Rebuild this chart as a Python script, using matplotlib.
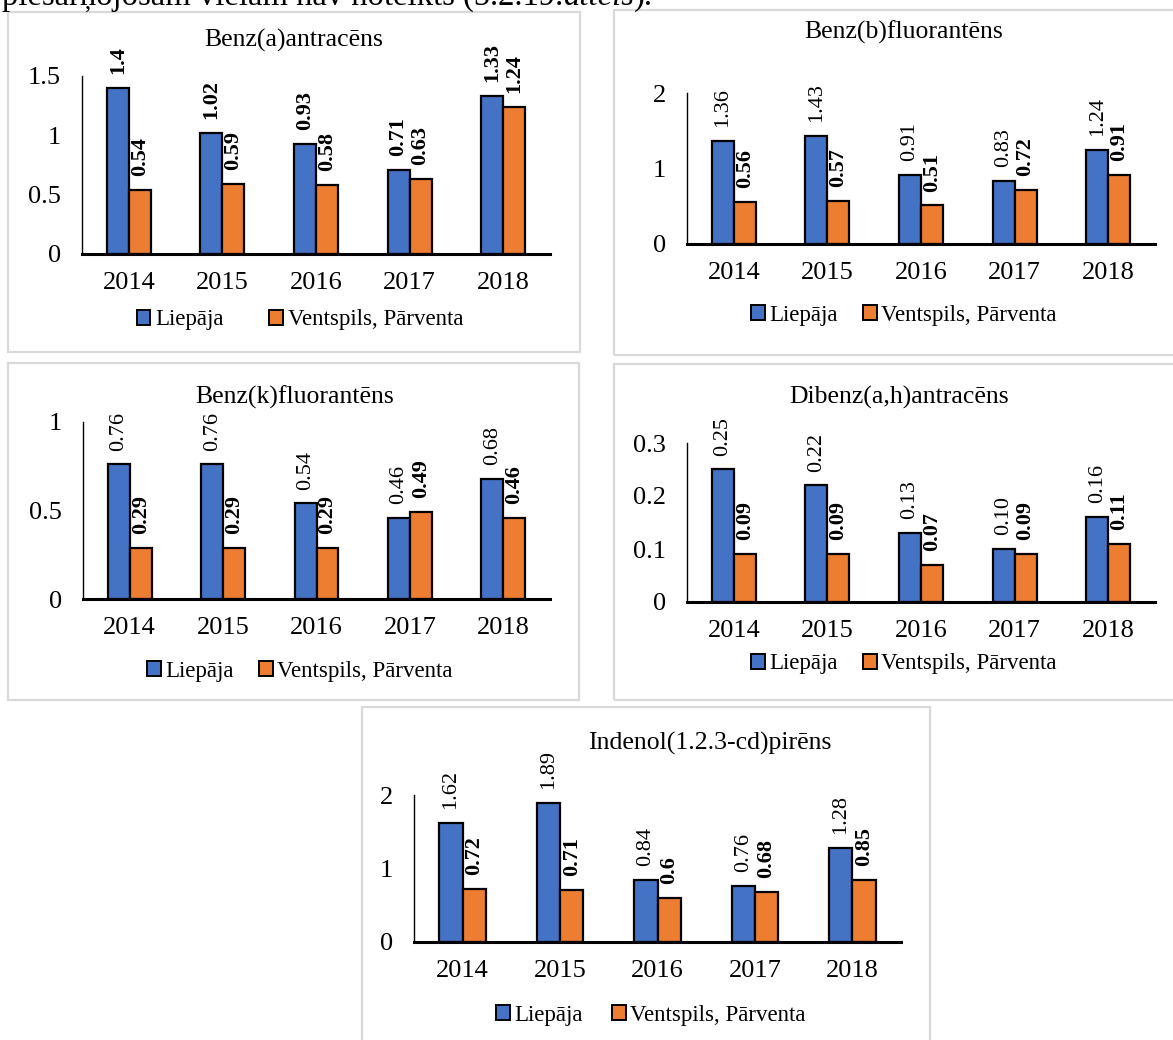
import matplotlib
matplotlib.use("Agg")
import matplotlib.pyplot as plt
from matplotlib.patches import Rectangle

plt.rcParams['font.family'] = ['Liberation Serif', 'DejaVu Serif']

W, H = 1173, 1040

years = ["2014", "2015", "2016", "2017", "2018"]
series_names = ["Liepāja", "Ventspils, Pārventa"]

benz_a_liep = [1.4, 1.02, 0.93, 0.71, 1.33]
benz_a_vent = [0.54, 0.59, 0.58, 0.63, 1.24]
benz_a_liep_lbl = ["1.4", "1.02", "0.93", "0.71", "1.33"]
benz_a_vent_lbl = ["0.54", "0.59", "0.58", "0.63", "1.24"]

benz_b_liep = [1.36, 1.43, 0.91, 0.83, 1.24]
benz_b_vent = [0.56, 0.57, 0.51, 0.72, 0.91]
benz_b_liep_lbl = ["1.36", "1.43", "0.91", "0.83", "1.24"]
benz_b_vent_lbl = ["0.56", "0.57", "0.51", "0.72", "0.91"]

benz_k_liep = [0.76, 0.76, 0.54, 0.46, 0.68]
benz_k_vent = [0.29, 0.29, 0.29, 0.49, 0.46]
benz_k_liep_lbl = ["0.76", "0.76", "0.54", "0.46", "0.68"]
benz_k_vent_lbl = ["0.29", "0.29", "0.29", "0.49", "0.46"]

dibenz_liep = [0.25, 0.22, 0.13, 0.10, 0.16]
dibenz_vent = [0.09, 0.09, 0.07, 0.09, 0.11]
dibenz_liep_lbl = ["0.25", "0.22", "0.13", "0.10", "0.16"]
dibenz_vent_lbl = ["0.09", "0.09", "0.07", "0.09", "0.11"]

indenol_liep = [1.62, 1.89, 0.84, 0.76, 1.28]
indenol_vent = [0.72, 0.71, 0.6, 0.68, 0.85]
indenol_liep_lbl = ["1.62", "1.89", "0.84", "0.76", "1.28"]
indenol_vent_lbl = ["0.72", "0.71", "0.6", "0.68", "0.85"]

BLUE = "#4472C4"
ORANGE = "#ED7D31"
BORDER = "#d9d9d9"

fig = plt.figure(figsize=(W / 100, H / 100), dpi=100)


def fx(x):
    return x / W


def fy(y):
    return 1 - y / H


def panel_box(x0, y0, x1, y1):
    fig.add_artist(Rectangle((fx(x0), fy(y1)), fx(x1) - fx(x0), fy(y0) - fy(y1),
                             transform=fig.transFigure, fill=False,
                             edgecolor=BORDER, linewidth=1.6))


def chart(area, title, title_xy, liep, vent, liep_lbl, vent_lbl, ymax, yticks, ylabels,
          legend_xy, colspace, bold_liep=False, bw=0.235):
    left, top, right, bottom = area
    ax = fig.add_axes([fx(left), fy(bottom), fx(right) - fx(left), fy(top) - fy(bottom)])
    ax.set_facecolor("none")
    x = list(range(len(years)))
    b1 = ax.bar([i - bw / 2 for i in x], liep, bw, color=BLUE, edgecolor="black", linewidth=1.6)
    b2 = ax.bar([i + bw / 2 for i in x], vent, bw, color=ORANGE, edgecolor="black", linewidth=1.6)
    ax.bar_label(b1, labels=liep_lbl, rotation=90, padding=10, fontsize=16,
                 fontweight="bold" if bold_liep else "normal")
    ax.bar_label(b2, labels=vent_lbl, rotation=90, padding=10, fontsize=16, fontweight="bold")
    ax.set_xlim(-0.5, len(years) - 0.5)
    ax.set_ylim(0, ymax)
    ax.set_xticks(x)
    ax.set_xticklabels(years, fontsize=19)
    ax.set_yticks(yticks)
    ax.set_yticklabels(ylabels, fontsize=19)
    ax.tick_params(length=0)
    ax.tick_params(axis="x", pad=13)
    ax.tick_params(axis="y", pad=15)
    for s in ["top", "right"]:
        ax.spines[s].set_visible(False)
    ax.spines["left"].set_linewidth(1.0)
    ax.spines["bottom"].set_linewidth(2.2)
    fig.text(fx(title_xy[0]), fy(title_xy[1]), title, fontsize=18.5, ha="center", va="center")
    handles = [Rectangle((0, 0), 1, 1, facecolor=BLUE, edgecolor="black", linewidth=1.4),
               Rectangle((0, 0), 1, 1, facecolor=ORANGE, edgecolor="black", linewidth=1.4)]
    fig.legend(handles, series_names, loc="center", bbox_to_anchor=(fx(legend_xy[0]), fy(legend_xy[1])),
               ncol=2, frameon=False, fontsize=16.5, handlelength=0.6, handleheight=0.6,
               handletextpad=0.2, columnspacing=colspace, borderpad=0, borderaxespad=0)
    return ax


# panel frames
panel_box(8, 12, 580, 352)
panel_box(614, 10, 1185, 355)
panel_box(8, 363, 579, 700)
panel_box(614, 364, 1185, 700)
panel_box(362, 707, 930, 1050)

chart((82, 76, 550, 254), "Benz(a)antracēns", (294, 40), benz_a_liep, benz_a_vent,
      benz_a_liep_lbl, benz_a_vent_lbl, 1.5, [0, 0.5, 1, 1.5], ["0", "0.5", "1", "1.5"],
      (300, 320), 2.0, bold_liep=True)
chart((687, 93, 1155, 244), "Benz(b)fluorantēns", (904, 32), benz_b_liep, benz_b_vent,
      benz_b_liep_lbl, benz_b_vent_lbl, 2, [0, 1, 2], ["0", "1", "2"],
      (904, 315), 1.1)
chart((83, 422, 550, 599), "Benz(k)fluorantēns", (295, 397), benz_k_liep, benz_k_vent,
      benz_k_liep_lbl, benz_k_vent_lbl, 1, [0, 0.5, 1], ["0", "0.5", "1"],
      (300, 671), 1.1)
chart((687, 443, 1155, 602), "Dibenz(a,h)antracēns", (899, 397), dibenz_liep, dibenz_vent,
      dibenz_liep_lbl, dibenz_vent_lbl, 0.3, [0, 0.1, 0.2, 0.3], ["0", "0.1", "0.2", "0.3"],
      (904, 664), 1.1)
chart((414, 795, 901, 942), "Indenol(1.2.3-cd)pirēns", (710, 743), indenol_liep, indenol_vent,
      indenol_liep_lbl, indenol_vent_lbl, 2, [0, 1, 2], ["0", "1", "2"],
      (651, 1015), 1.25, bw=0.24)

# document text cut off at the top of the picture
fig.canvas.draw()
r = fig.canvas.get_renderer()
t1 = fig.text(fx(2), fy(5), "piesārņojošām vielām nav noteikts (5.2.19.", fontsize=23.5, va="baseline")
e1 = t1.get_window_extent(r)
t2 = fig.text(e1.x1 / W, fy(5), "attēls", fontsize=23.5, style="italic", va="baseline")
e2 = t2.get_window_extent(r)
fig.text(e2.x1 / W, fy(5), ").", fontsize=23.5, va="baseline")

fig.savefig("out.png", dpi=100, facecolor="white")
